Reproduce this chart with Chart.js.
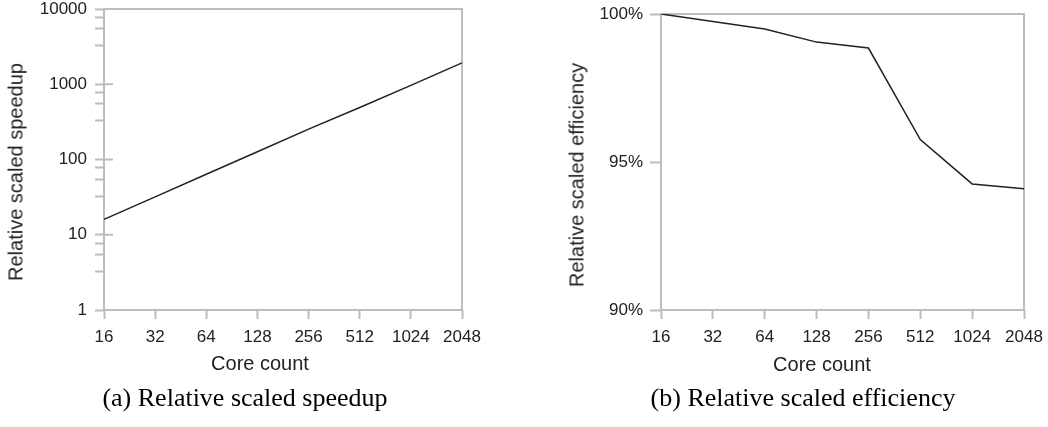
<!DOCTYPE html>
<html>
<head>
<meta charset="utf-8">
<script src="https://cdn.jsdelivr.net/npm/chart.js@4.4.1/dist/chart.umd.min.js"></script>
<style>
  body{margin:0;background:#fff;width:1048px;height:427px;position:relative;overflow:hidden;font-family:"Liberation Sans",Arial,sans-serif;color:#222;}
  .box{position:absolute;top:0;height:380px;}
  .t{position:absolute;white-space:nowrap;font-size:20px;transform:translate(-50%,-50%);}
  .yt{transform:translate(-50%,-50%) rotate(-90deg);}
  .cap{position:absolute;white-space:nowrap;font-family:"Liberation Serif","Times New Roman",serif;font-size:26px;color:#000;transform:translate(-50%,-50%);}
</style>
</head>
<body>
<div class="box" style="left:0;width:500px"><canvas id="chart_a"></canvas></div>
<div class="box" style="left:540px;width:508px"><canvas id="chart_b"></canvas></div>

<div class="t yt" style="left:16px;top:172px">Relative scaled speedup</div>
<div class="t" style="left:260px;top:363px">Core count</div>
<div class="t yt" style="left:577px;top:175px">Relative scaled efficiency</div>
<div class="t" style="left:822px;top:364px">Core count</div>
<div class="cap" style="left:245px;top:398px">(a) Relative scaled speedup</div>
<div class="cap" style="left:803px;top:398px">(b) Relative scaled efficiency</div>

<script>
// data
var cores = ['16','32','64','128','256','512','1024','2048'];
var speedup = [16, 31.9, 63.7, 126.8, 253.1, 490.3, 965.2, 1927];
var efficiency = [100, 99.75, 99.49, 99.05, 98.85, 95.76, 94.26, 94.1];

// log axis ticks (decades labelled, minor marks in between)
var speedupTicks = [1, 3.25, 5.5, 7.75, 10, 32.5, 55, 77.5, 100, 325, 550, 775, 1000, 3250, 5500, 7750, 10000];
var speedupLabels = [1, 10, 100, 1000, 10000];
var effTicks = [90, 95, 100];

var axisColor = '#bdbdbd';
var lineColor = '#222';

Chart.defaults.font.family = '"Liberation Sans", Arial, sans-serif';
Chart.defaults.font.size = 17;
Chart.defaults.color = '#222';

// gray box round the plot + inner stubs for decade ticks
var framePlugin = {
  id: 'frame',
  beforeDatasetsDraw: function(chart, args, opts){
    var a = chart.chartArea, ctx = chart.ctx;
    ctx.save();
    ctx.strokeStyle = axisColor;
    ctx.lineWidth = 2;
    ctx.strokeRect(a.left, a.top, a.right - a.left, a.bottom - a.top);
    (opts.stubs || []).forEach(function(v){
      var py = chart.scales.y.getPixelForValue(v);
      ctx.beginPath();
      ctx.moveTo(a.left, py);
      ctx.lineTo(a.left + 9, py);
      ctx.stroke();
    });
    ctx.restore();
  }
};

function gridOpts(len){
  return {drawOnChartArea:false, drawTicks:true, tickLength:len, tickColor:axisColor, tickWidth:2};
}
// fixed plot box: the layout padding alone decides where the plot sits
function fitX(s){ s.height = 70; s.paddingLeft = 0; s.paddingRight = 0; }
function fitY(w){
  return function(s){ s.width = w; s.paddingTop = 0; s.paddingBottom = 0; };
}

//图 a
new Chart(document.getElementById('chart_a'), {
  type: 'line',
  data: {
    labels: cores,
    datasets: [{data: speedup, borderColor: lineColor, borderWidth: 1.5, pointRadius: 0, tension: 0, fill: false}]
  },
  options: {
    responsive: true, maintainAspectRatio: false, animation: false,
    layout: {padding: {top: 9, right: 38, left: 0, bottom: 0}},
    plugins: {legend: {display: false}, tooltip: {enabled: false}, frame: {stubs: [10, 100, 1000]}},
    scales: {
      x: {
        type: 'category', offset: false,
        grid: gridOpts(9), border: {display: false},
        ticks: {padding: 8, maxRotation: 0, autoSkip: false},
        afterFit: fitX
      },
      y: {
        type: 'logarithmic', min: 1, max: 10000,
        grid: gridOpts(9), border: {display: false},
        afterBuildTicks: function(s){ s.ticks = speedupTicks.map(function(v){ return {value: v}; }); },
        ticks: {padding: 8, autoSkip: false,
          callback: function(v){ return speedupLabels.indexOf(v) >= 0 ? String(v) : ''; }},
        afterFit: fitY(104)
      }
    }
  },
  plugins: [framePlugin]
});

//图 b
new Chart(document.getElementById('chart_b'), {
  type: 'line',
  data: {
    labels: cores,
    datasets: [{data: efficiency, borderColor: lineColor, borderWidth: 1.5, pointRadius: 0, tension: 0, fill: false}]
  },
  options: {
    responsive: true, maintainAspectRatio: false, animation: false,
    layout: {padding: {top: 14, right: 24, left: 0, bottom: 0}},
    plugins: {legend: {display: false}, tooltip: {enabled: false}, frame: {stubs: []}},
    scales: {
      x: {
        type: 'category', offset: false,
        grid: gridOpts(9), border: {display: false},
        ticks: {padding: 8, maxRotation: 0, autoSkip: false},
        afterFit: fitX
      },
      y: {
        type: 'linear', min: 90, max: 100,
        grid: gridOpts(11), border: {display: false},
        afterBuildTicks: function(s){ s.ticks = effTicks.map(function(v){ return {value: v}; }); },
        ticks: {padding: 7, callback: function(v){ return v + '%'; }},
        afterFit: fitY(121)
      }
    }
  },
  plugins: [framePlugin]
});
</script>
</body>
</html>
